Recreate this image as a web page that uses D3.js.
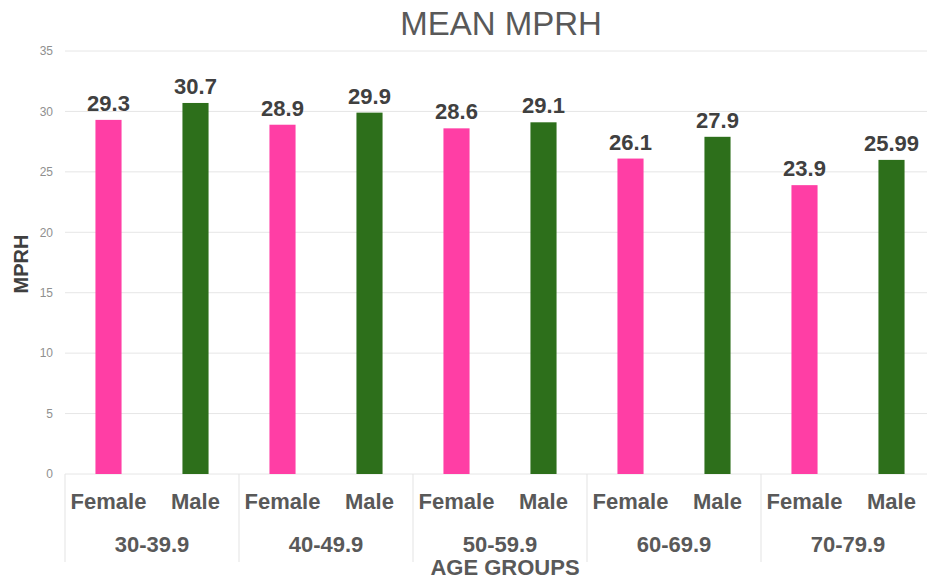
<!DOCTYPE html>
<html><head><meta charset="utf-8">
<script src="https://cdn.jsdelivr.net/npm/d3@7"></script>
<style>body{margin:0;background:#fff}svg{font-family:"Liberation Sans",Arial,sans-serif}</style>
</head><body><svg id="c" width="927" height="583"></svg>
<script>
const groups = ["30-39.9","40-49.9","50-59.9","60-69.9","70-79.9"];
const sexes = ["Female","Male"];
const female = [29.3, 28.9, 28.6, 26.1, 23.9];
const male = [30.7, 29.9, 29.1, 27.9, 25.99];
const femaleLabels = ["29.3","28.9","28.6","26.1","23.9"];
const maleLabels = ["30.7","29.9","29.1","27.9","25.99"];
const yTicks = [0,5,10,15,20,25,30,35];
const colors = {Female:"#ff3ea5", Male:"#2d6f1b"};

(function(){
const data = [];
groups.forEach((g,i)=>{
  data.push({group:g, sex:"Female", v:female[i], label:femaleLabels[i]});
  data.push({group:g, sex:"Male", v:male[i], label:maleLabels[i]});
});

const svg = d3.select("#c");
const mL = 65, mR = 935, mT = 51, mB = 474;
const y = d3.scaleLinear().domain([0,35]).range([mB, mT]);
const x0 = d3.scaleBand().domain(groups).range([mL, mR]).padding(0);
const x1 = d3.scaleBand().domain(sexes).range([0, x0.bandwidth()]).paddingInner(0.7).paddingOuter(0.35);

svg.append("g").selectAll("line").data(yTicks).join("line")
  .attr("x1", mL).attr("x2", mR)
  .attr("y1", d=>y(d)).attr("y2", d=>y(d))
  .attr("stroke", "#e6e6e6").attr("stroke-width", 1);

const yAxis = d3.axisLeft(y).tickValues(yTicks).tickSize(0).tickPadding(0);
const ya = svg.append("g").attr("transform", `translate(53,0)`).call(yAxis);
ya.select(".domain").remove();
ya.selectAll("text").attr("fill","#8f8f8f").style("font-size","12px").style("font-family","Liberation Sans, Arial, sans-serif");

svg.append("g").selectAll("rect").data(data).join("rect")
  .attr("x", d=>x0(d.group)+x1(d.sex))
  .attr("width", x1.bandwidth())
  .attr("y", d=>y(d.v))
  .attr("height", d=>y(0)-y(d.v))
  .attr("fill", d=>colors[d.sex]);

svg.append("g").selectAll("text").data(data).join("text")
  .attr("x", d=>x0(d.group)+x1(d.sex)+x1.bandwidth()/2)
  .attr("y", d=>y(d.v)-9)
  .attr("text-anchor","middle")
  .attr("fill","#404040").style("font-size","22px").style("font-weight","bold")
  .text(d=>d.label);

svg.append("g").selectAll("line").data(groups.map(g=>x0(g)).concat([mR])).join("line")
  .attr("x1", d=>d).attr("x2", d=>d).attr("y1", mB).attr("y2", 562)
  .attr("stroke","#e3e3e3");

svg.append("g").selectAll("text").data(data).join("text")
  .attr("x", d=>x0(d.group)+x1(d.sex)+x1.bandwidth()/2)
  .attr("y", 509)
  .attr("text-anchor","middle")
  .attr("fill","#595959").style("font-size","22px").style("font-weight","bold")
  .text(d=>d.sex);

svg.append("g").selectAll("text").data(groups).join("text")
  .attr("x", d=>x0(d)+x0.bandwidth()/2)
  .attr("y", 552)
  .attr("text-anchor","middle")
  .attr("fill","#595959").style("font-size","22px").style("font-weight","bold")
  .text(d=>d);

svg.append("text").attr("x", 505).attr("y", 575).attr("text-anchor","middle")
  .attr("fill","#595959").style("font-size","22px").style("font-weight","bold").text("AGE GROUPS");
svg.append("text").attr("transform","translate(28,264) rotate(-90)").attr("text-anchor","middle")
  .attr("fill","#404040").style("font-size","20px").style("font-weight","bold").text("MPRH");
svg.append("text").attr("x", 501).attr("y", 35).attr("text-anchor","middle")
  .attr("fill","#595959").style("font-size","33px").text("MEAN MPRH");
})();
</script></body></html>
